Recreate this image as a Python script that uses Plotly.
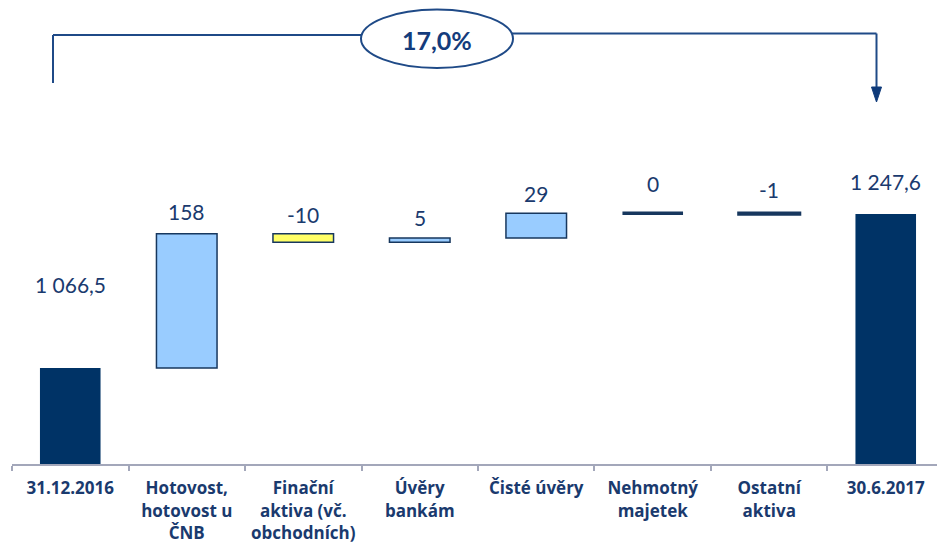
import plotly.graph_objects as go

# ---- data ----
categories = ["31.12.2016", "Hotovost,<br>hotovost u<br>ČNB", "Finační<br>aktiva (vč.<br>obchodních)",
              "Úvěry<br>bankám", "Čisté úvěry", "Nehmotný<br>majetek", "Ostatní<br>aktiva", "30.6.2017"]
start_value = 1066.5
changes = [158, -10, 5, 29, 0, -1]
end_value = 1247.6
value_labels = ["1 066,5", "158", "-10", "5", "29", "0", "-1", "1 247,6"]
growth_label = "17,0%"

# ---- styles ----
NAVY = "#003366"
LIGHT = "#99CCFF"
YELLOW = "#FFFF66"
EDGE = "#17375E"
TEXT = "#1A3A6E"
BRACKET = "#1F4A87"
FONT = "Lato"
label_shift = [83, 22, 19, 20, 20, 30, 24, 33]  # px above bar top

# ---- build waterfall geometry from data ----
bases, heights, colors, edges, widths = [], [], [], [], []
bases.append(0); heights.append(start_value); colors.append(NAVY); edges.append(NAVY); widths.append(0)
cum = start_value
for ch in changes:
    bases.append(cum)
    if ch == 0:
        heights.append(1e-3)
    else:
        heights.append(ch)
    if abs(ch) <= 1:
        colors.append(EDGE); edges.append(EDGE); widths.append(3.5)
    elif ch < 0:
        colors.append(YELLOW); edges.append(EDGE); widths.append(1.5)
    else:
        colors.append(LIGHT); edges.append(EDGE); widths.append(1.5)
    cum += ch
bases.append(0); heights.append(end_value); colors.append(NAVY); edges.append(NAVY); widths.append(0)

tops = [max(b, b + h) for b, h in zip(bases, heights)]

fig = go.Figure()
fig.add_trace(go.Bar(
    x=categories, y=heights, base=bases, width=0.52,
    marker=dict(color=colors, line=dict(color=edges, width=widths)),
    hoverinfo="skip", showlegend=False,
))

for cat, top, lab, sh in zip(categories, tops, value_labels, label_shift):
    fig.add_annotation(x=cat, y=top, text=lab, showarrow=False, yanchor="middle", xanchor="center",
                       yshift=sh, font=dict(family=FONT, size=21, color=TEXT))

# ---- top bracket (decoration in paper coords) ----
W, H, L, B = 937, 546, 12, 82
PW, PH = W - L, H - B
def px(x): return (x - L) / PW
def py(y): return (PH - y) / PH

line = dict(color=BRACKET, width=2)
fig.add_shape(type="line", xref="paper", yref="paper", x0=px(53), x1=px(53), y0=py(35), y1=py(83), line=line)
fig.add_shape(type="line", xref="paper", yref="paper", x0=px(53), x1=px(362), y0=py(35), y1=py(35), line=line)
fig.add_shape(type="line", xref="paper", yref="paper", x0=px(512), x1=px(876.5), y0=py(33.5), y1=py(33.5), line=line)
fig.add_shape(type="line", xref="paper", yref="paper", x0=px(876.5), x1=px(876.5), y0=py(33.5), y1=py(90), line=line)
fig.add_shape(type="path", xref="paper", yref="paper",
              path=f"M {px(871.5)},{py(87)} L {px(881.5)},{py(87)} L {px(876.5)},{py(102)} Z",
              fillcolor="#0E3A7A", line=dict(color="#0E3A7A", width=1))
fig.add_shape(type="circle", xref="paper", yref="paper", x0=px(361), x1=px(513), y0=py(68), y1=py(9.5),
              line=dict(color=BRACKET, width=2), fillcolor="white")
fig.add_annotation(xref="paper", yref="paper", x=px(437), y=py(40), text=f"<b>{growth_label}</b>",
                   showarrow=False, xanchor="center", yanchor="middle",
                   font=dict(family=FONT, size=25, color="#143C7C"))

fig.update_layout(
    width=W, height=H, margin=dict(l=L, r=0, t=0, b=B),
    paper_bgcolor="white", plot_bgcolor="white",
    xaxis=dict(type="category", range=[-0.5, 7.44], showline=True, linecolor="#A3A7BA", linewidth=2,
               ticks="outside", tickson="boundaries", ticklen=5, tickcolor="#A3A7BA", tickwidth=2,
               tickfont=dict(family="Open Sans", size=17, color=TEXT, weight="bold"),
               ticklabelstandoff=8, showgrid=False, zeroline=False),
    yaxis=dict(range=[953.5, 953.5 + PH / 0.85], visible=False, showgrid=False, zeroline=False),
)

fig.write_html("out.html")
